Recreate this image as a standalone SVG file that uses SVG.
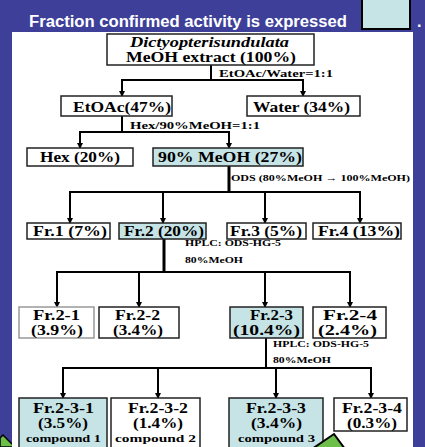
<svg xmlns="http://www.w3.org/2000/svg" width="425" height="447" viewBox="0 0 425 447">
<style>
.box{fill:#ffffff;stroke:#222;stroke-width:1.5}
.hl{fill:#c6e3e6;stroke:#222;stroke-width:1.5}
.t{font-family:"Liberation Serif","Times New Roman",serif;font-weight:bold;fill:#000}
.n{font-size:14px}
.s{font-size:11px}
.l{font-size:10.5px}
.xs{font-size:9px}
.c{stroke:#000;stroke-width:2;fill:none}
.ck{stroke:#000;stroke-width:3;fill:none}
.ar{stroke:#000;stroke-width:2;fill:none;marker-end:url(#ah)}
</style>
<defs>
<marker id="ah" markerWidth="6" markerHeight="6" refX="5" refY="3" orient="auto" markerUnits="userSpaceOnUse">
<path d="M0,0 L6,3 L0,6 Z" fill="#000"/>
</marker>
</defs>
<rect x="0" y="0" width="425" height="447" fill="#3e3f99"/>
<polygon points="0,438 3,435 13,445 13,447 0,447" fill="#6cc04a" stroke="#000" stroke-width="1.5"/>
<rect x="12" y="32" width="401" height="415" fill="#ffffff"/>
<text x="29" y="27" font-family="'Liberation Sans',Arial,sans-serif" font-weight="bold" font-size="16" fill="#ffffff" textLength="318" lengthAdjust="spacingAndGlyphs">Fraction confirmed activity is expressed</text>
<rect x="362" y="-3" width="48" height="32" fill="#c6e3e6" stroke="#000" stroke-width="2"/>
<text x="417" y="27" font-family="'Liberation Sans',Arial,sans-serif" font-weight="bold" font-size="16" fill="#ffffff">.</text>

<g id="connectors">
<line class="c" x1="211" y1="65" x2="211" y2="80"/>
<line class="c" x1="121" y1="80" x2="304" y2="80"/>
<line class="ar" x1="122" y1="80" x2="122" y2="96"/>
<line class="ar" x1="303" y1="80" x2="303" y2="96"/>
<text class="t l" x="219" y="77" textLength="114" lengthAdjust="spacingAndGlyphs">EtOAc/Water=1:1</text>

<line class="c" x1="122" y1="116" x2="122" y2="132"/>
<line class="c" x1="79" y1="132" x2="230" y2="132"/>
<line class="ar" x1="80" y1="132" x2="80" y2="148"/>
<line class="ar" x1="229" y1="132" x2="229" y2="148"/>
<text class="t l" x="130" y="129" textLength="130" lengthAdjust="spacingAndGlyphs">Hex/90%MeOH=1:1</text>

<line class="ck" x1="229" y1="166" x2="229" y2="192"/>
<line class="c" x1="69" y1="192" x2="361" y2="192"/>
<line class="ar" x1="70" y1="192" x2="70" y2="223"/>
<line class="ar" x1="163" y1="192" x2="163" y2="223"/>
<line class="ar" x1="265" y1="192" x2="265" y2="223"/>
<line class="ar" x1="360" y1="192" x2="360" y2="223"/>
<text class="t xs" x="231" y="181" textLength="179" lengthAdjust="spacingAndGlyphs">ODS (80%MeOH → 100%MeOH)</text>

<line class="ck" x1="164" y1="238" x2="164" y2="272"/>
<line class="c" x1="56" y1="272" x2="351" y2="272"/>
<line class="ar" x1="57" y1="272" x2="57" y2="307"/>
<line class="ar" x1="139" y1="272" x2="139" y2="307"/>
<line class="ar" x1="265" y1="272" x2="265" y2="307"/>
<line class="ar" x1="350" y1="272" x2="350" y2="307"/>
<text class="t xs" x="185" y="246" textLength="96" lengthAdjust="spacingAndGlyphs">HPLC: ODS-HG-5</text>
<text class="t xs" x="185" y="263" textLength="58" lengthAdjust="spacingAndGlyphs">80%MeOH</text>

<line class="c" x1="266" y1="338" x2="266" y2="368"/>
<line class="c" x1="62" y1="368" x2="372" y2="368"/>
<line class="ar" x1="63" y1="368" x2="63" y2="398"/>
<line class="ar" x1="158" y1="368" x2="158" y2="398"/>
<line class="ar" x1="276" y1="368" x2="276" y2="398"/>
<line class="ar" x1="371" y1="368" x2="371" y2="398"/>
<text class="t xs" x="273" y="347" textLength="96" lengthAdjust="spacingAndGlyphs">HPLC: ODS-HG-5</text>
<text class="t xs" x="273" y="363" textLength="58" lengthAdjust="spacingAndGlyphs">80%MeOH</text>
</g>

<g id="root">
<rect class="box" x="107" y="34" width="207" height="31"/>
<text class="t n" x="130" y="47" font-style="italic" textLength="159" lengthAdjust="spacingAndGlyphs">Dictyopterisundulata</text>
<text class="t n" x="126" y="62" textLength="170" lengthAdjust="spacingAndGlyphs">MeOH extract (100%)</text>
</g>
<g id="etoac">
<rect class="box" x="61" y="96" width="111" height="20"/>
<text class="t n" x="73" y="112" textLength="98" lengthAdjust="spacingAndGlyphs">EtOAc(47%)</text>
</g>
<g id="water">
<rect class="box" x="247" y="96" width="113" height="20"/>
<text class="t n" x="253" y="112" textLength="97" lengthAdjust="spacingAndGlyphs">Water (34%)</text>
</g>
<g id="hex">
<rect class="box" x="27" y="148" width="106" height="18"/>
<text class="t n" x="40" y="162" textLength="80" lengthAdjust="spacingAndGlyphs">Hex (20%)</text>
</g>
<g id="meoh90">
<rect class="hl" x="153" y="148" width="150" height="18"/>
<text class="t n" x="158" y="162" textLength="144" lengthAdjust="spacingAndGlyphs">90% MeOH (27%)</text>
</g>
<g id="fr1">
<rect class="box" x="27" y="223" width="83" height="16"/>
<text class="t n" x="33" y="236" textLength="74" lengthAdjust="spacingAndGlyphs">Fr.1 (7%)</text>
</g>
<g id="fr2">
<rect class="hl" x="119" y="223" width="87" height="16"/>
<text class="t n" x="124" y="236" textLength="80" lengthAdjust="spacingAndGlyphs">Fr.2 (20%)</text>
</g>
<g id="fr3">
<rect class="box" x="227" y="223" width="79" height="16"/>
<text class="t n" x="230" y="236" textLength="72" lengthAdjust="spacingAndGlyphs">Fr.3 (5%)</text>
</g>
<g id="fr4">
<rect class="box" x="313" y="223" width="88" height="16"/>
<text class="t n" x="318" y="236" textLength="82" lengthAdjust="spacingAndGlyphs">Fr.4 (13%)</text>
</g>
<g id="fr2-1">
<rect x="19" y="307" width="75" height="31" fill="#fff" stroke="#999" stroke-width="1.5"/>
<text class="t n" x="33" y="320" textLength="47" lengthAdjust="spacingAndGlyphs">Fr.2-1</text>
<text class="t n" x="31" y="335" textLength="52" lengthAdjust="spacingAndGlyphs">(3.9%)</text>
</g>
<g id="fr2-2">
<rect class="box" x="99" y="307" width="80" height="31"/>
<text class="t n" x="115" y="320" textLength="45" lengthAdjust="spacingAndGlyphs">Fr.2-2</text>
<text class="t n" x="113" y="335" textLength="50" lengthAdjust="spacingAndGlyphs">(3.4%)</text>
</g>
<g id="fr2-3">
<rect class="hl" x="230" y="307" width="73" height="31"/>
<text class="t n" x="250" y="320" textLength="43" lengthAdjust="spacingAndGlyphs">Fr.2-3</text>
<text class="t n" x="233" y="335" textLength="67" lengthAdjust="spacingAndGlyphs">(10.4%)</text>
</g>
<g id="fr2-4">
<rect class="box" x="313" y="307" width="73" height="31"/>
<text class="t n" x="323" y="320" textLength="54" lengthAdjust="spacingAndGlyphs">Fr.2-4</text>
<text class="t n" x="318" y="335" textLength="59" lengthAdjust="spacingAndGlyphs">(2.4%)</text>
</g>
<g id="fr2-3-1">
<rect class="hl" x="19" y="398" width="88" height="52"/>
<text class="t n" x="33" y="413" textLength="61" lengthAdjust="spacingAndGlyphs">Fr.2-3-1</text>
<text class="t n" x="38" y="428" textLength="50" lengthAdjust="spacingAndGlyphs">(3.5%)</text>
<text class="t s" x="26" y="442" textLength="75" lengthAdjust="spacingAndGlyphs">compound 1</text>
</g>
<g id="fr2-3-2">
<rect class="box" x="111" y="398" width="89" height="52"/>
<text class="t n" x="128" y="413" textLength="60" lengthAdjust="spacingAndGlyphs">Fr.2-3-2</text>
<text class="t n" x="133" y="428" textLength="50" lengthAdjust="spacingAndGlyphs">(1.4%)</text>
<text class="t s" x="115" y="442" textLength="81" lengthAdjust="spacingAndGlyphs">compound 2</text>
</g>
<g id="fr2-3-3">
<rect class="hl" x="229" y="398" width="94" height="52"/>
<text class="t n" x="246" y="413" textLength="60" lengthAdjust="spacingAndGlyphs">Fr.2-3-3</text>
<text class="t n" x="251" y="428" textLength="51" lengthAdjust="spacingAndGlyphs">(3.4%)</text>
<text class="t s" x="238" y="442" textLength="77" lengthAdjust="spacingAndGlyphs">compound 3</text>
</g>
<g id="fr2-3-4">
<rect class="box" x="334" y="398" width="73" height="33"/>
<text class="t n" x="342" y="413" textLength="60" lengthAdjust="spacingAndGlyphs">Fr.2-3-4</text>
<text class="t n" x="347" y="428" textLength="50" lengthAdjust="spacingAndGlyphs">(0.3%)</text>
</g>
<polygon points="312,449 334,434 345,449" fill="#6cc04a" stroke="#000" stroke-width="2"/>
</svg>
